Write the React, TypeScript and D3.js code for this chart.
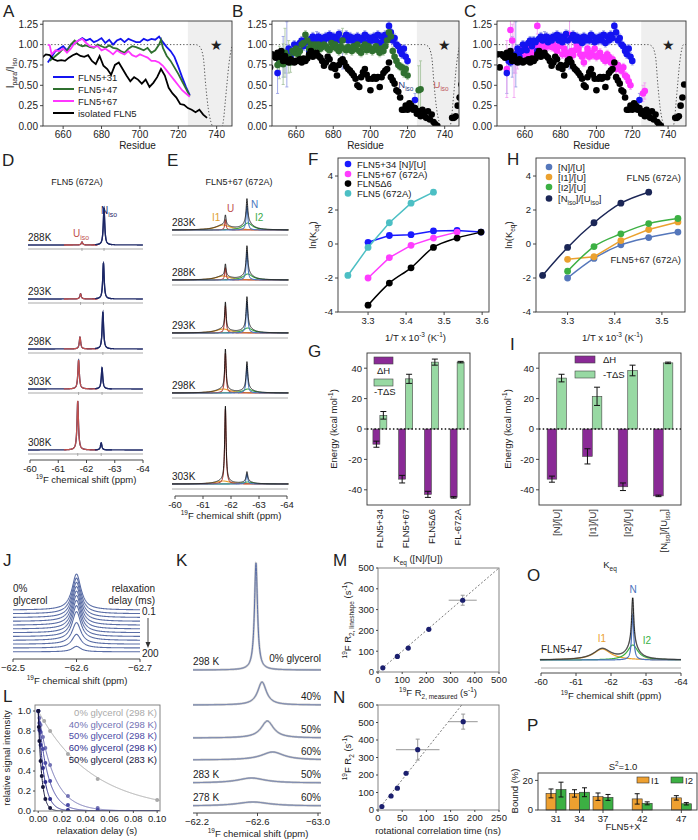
import React from 'react';
import * as d3 from 'd3';

const FONT = "'Liberation Sans', Arial, Helvetica, sans-serif";
const INK = '#222';

// ================= DATA =================
// Panel A: smoothed PRE profiles [residue, Ipara/Iiso]
const aBlue31: [number, number][] = [[652,0.78],[654,0.85],[656,0.92],[658,0.95],[660,0.98],[662,0.93],[664,1.0],[666,1.02],[668,1.05],[670,1.08],[672,1.05],[674,1.07],[676,1.03],[678,1.05],[680,1.08],[682,1.02],[684,1.06],[686,1.0],[688,1.05],[690,1.07],[692,1.03],[694,1.07],[696,1.05],[698,1.03],[700,1.03],[702,1.07],[704,1.05],[706,1.07],[708,1.06],[710,1.1],[712,1.03],[714,0.97],[716,0.92],[718,0.85],[720,0.73],[722,0.6],[724,0.48],[726,0.38]];
const aGreen47: [number, number][] = [[653,0.8],[656,0.86],[658,0.9],[660,0.95],[662,0.92],[664,1.0],[666,1.05],[668,1.0],[670,0.98],[672,0.99],[674,0.97],[676,0.96],[678,1.0],[680,0.98],[682,0.96],[684,0.99],[686,0.96],[688,0.95],[690,0.92],[692,0.9],[694,0.95],[696,0.98],[698,0.97],[700,0.95],[702,0.93],[704,0.96],[706,0.9],[708,0.93],[710,1.0],[711,1.06],[712,0.96],[714,0.86],[716,0.8],[718,0.72],[720,0.64],[722,0.55],[724,0.46],[726,0.37]];
const aMagenta67: [number, number][] = [[652,1.0],[653,0.99],[654,0.88],[656,0.93],[658,0.92],[660,0.95],[662,0.9],[664,0.95],[666,1.02],[668,1.05],[670,1.07],[672,1.02],[674,0.98],[676,0.97],[678,0.98],[680,0.93],[682,0.95],[684,0.92],[686,0.88],[688,0.93],[690,0.9],[692,0.88],[694,0.92],[696,0.87],[698,0.85],[700,0.88],[702,0.86],[704,0.84],[706,0.8],[708,0.8],[710,0.78],[712,0.74],[714,0.68],[716,0.62],[718,0.56],[720,0.5],[722,0.44],[724,0.4],[726,0.36]];
const aIsolated: [number, number][] = [[645,0.83],[647,0.82],[649,0.84],[651,0.88],[653,0.87],[655,0.82],[657,0.8],[659,0.81],[661,0.8],[663,0.84],[665,0.87],[667,0.89],[669,0.86],[671,0.85],[673,0.87],[675,0.8],[677,0.76],[679,0.86],[681,0.74],[683,0.7],[685,0.63],[687,0.75],[689,0.78],[691,0.7],[693,0.62],[695,0.55],[697,0.6],[699,0.57],[701,0.52],[703,0.57],[705,0.48],[707,0.53],[709,0.6],[711,0.7],[713,0.62],[715,0.47],[717,0.4],[719,0.35],[721,0.27],[723,0.26],[725,0.22],[727,0.2],[729,0.17],[731,0.2],[733,0.14],[735,0.1]];
const isoReference: [number, number][] = [[640,1],[729,1],[731,0.98],[733,0.85],[734.3,0.5],[735.6,0.22],[737,0.05],[738.6,-0.02],[742.6,-0.02],[743.6,0.08],[744.5,0.3],[745.3,0.5],[746.5,0.78],[747.6,0.94],[748.6,1.0],[752,1.0]];
const residueTicks = [660, 680, 700, 720, 740];
const ratioTicks = [0, 0.25, 0.5, 0.75, 1.0, 1.25];

// Panels B/C: per-residue PRE ratios
const isoStart = 645;
const isoVals: (number | null)[] = [0.88,0.72,0.88,0.86,0.84,0.90,0.85,0.92,0.80,0.86, 0.80,0.78,0.82,0.80,0.78,0.80,0.80,0.82,0.78,0.83, 0.80,0.83,0.88,0.92,0.85,0.88,0.90,0.86,0.84,0.80, 0.74,0.78,0.85,0.82,0.72,0.75,0.70,0.62,0.75,0.80, 0.82,0.78,0.73,0.70,0.68,0.65,0.62,0.58,0.50,0.48, 0.60,0.66,0.70,0.63,0.58,0.44,0.58,0.60,0.58,0.60, 0.48,0.60,0.65,0.68,0.70,0.78,0.60,0.56,0.52,0.44, 0.42,0.35,0.20,0.20,0.25,0.20,0.28,0.25,0.20,0.22, 0.15,0.18,0.12,0.20,0.15,0.10,0.18,0.08,0.14,0.05, 0.02,0.00, null,null,null,null,null,null,null, 0.10,0.10,0.12,0.25,0.35,0.51];
const p31Start = 650;
const p31Vals: (number | null)[] = [0.65,0.80,0.78,0.85,0.80,0.88,0.95,0.85,0.92,1.00, 0.97,0.93,1.02,1.05,0.98,1.05,1.03,0.92,1.07,1.10, 1.05,1.08,1.10,1.03,1.08,1.05,1.10,1.08,1.12,1.05, 1.10,1.03,1.08,1.13,1.05,0.80,1.08,1.12,1.05,1.10, 1.05,1.08,1.02,1.10,1.05,1.08,1.05,1.12,1.10,1.03, 1.08,1.05,1.10,1.05,1.12,1.02,1.10,1.05,1.12,1.08, 1.23,1.15,1.05,1.08,1.00,0.98,0.92,0.88,0.95,0.85, 0.80,null,null,null,0.32,null];
const p31BigErr: [number, number][] = [[650,0.25],[651,0.12],[653,0.25],[654,0.15],[655,0.4],[657,0.1],[671,0.08],[681,0.1],[684,0.12],[685,0.1],[724,0.08]];
const p47Start = 650;
const p47Vals: (number | null)[] = [0.75,0.78,0.80,0.76,0.90,0.82,0.85,0.78,0.92,0.90, 0.95,0.88,0.92,1.00,1.02,1.12,1.05,0.95,1.00,0.95, 1.00,0.98,1.00,0.95,0.97,1.00,0.98,0.95,0.93,1.02, 0.97,1.00,0.95,0.92,0.98,1.05,0.95,0.93,0.97,0.95, 0.92,0.98,0.95,1.00,0.92,0.90,0.97,1.00,0.93,0.98, 0.95,0.92,0.95,0.98,0.93,0.90,0.95,0.92,0.98,1.05, 1.15,1.10,0.92,0.85,0.80,0.75,0.73,0.72,0.65,0.70, 0.62,null,null,null,null,null,0.44,0.45];
const p47BigErr: [number, number][] = [[651,0.2],[653,0.25],[654,0.3],[656,0.2],[657,0.12],[685,0.15],[710,0.1],[726,0.3],[727,0.35]];
const p67Start = 650;
const p67Vals: (number | null)[] = [0.70,0.85,1.18,1.05,0.85,0.80,0.82,0.85,0.88,0.95, 0.90,0.85,0.95,0.90,0.88,1.00,0.95,1.23,0.98,1.02, 1.05,0.95,1.00,0.98,1.05,0.97,1.00,0.95,0.92,0.98, 1.00,0.88,0.95,0.90,0.85,1.12,0.92,0.87,0.93,1.00, 0.95,0.88,0.85,0.78,0.88,0.95,0.85,0.90,0.87,0.95, 0.85,0.87,0.90,0.85,0.82,0.80,0.88,0.85,0.78,0.82, 0.75,0.70,0.75,0.70,0.68,0.72,0.62,0.60,0.55,0.50, null,null,null,null,null,null,0.40,0.43];
const p67BigErr: [number, number][] = [[650,0.35],[651,0.1],[652,0.15],[653,0.2],[654,0.5],[655,0.15],[656,0.12],[667,0.1],[685,0.2],[686,0.15],[726,0.1],[727,0.1]];
const defaultErr = 0.05;

// Panel D: FLN5 (672A) spectra
const dTemps = ['288K', '293K', '298K', '303K', '308K'];
const dNiso = [1.0, 0.97, 1.0, 0.57, 0.19];
const dUiso = [0.08, 0.14, 0.32, 0.78, 1.32];
const dNisoPpm = [-62.62, -62.6, -62.58, -62.55, -62.52];
const dUisoPpm = [-61.84, -61.79, -61.77, -61.72, -61.69];
const ppmTicks = [-60, -61, -62, -63, -64];

// Panel E: FLN5+67 (672A) spectra (a.u.)
const eTemps = ['283K', '288K', '293K', '298K', '303K'];
const eU = [1.0, 1.2, 2.7, 4.0, 7.5];
const eI1 = [0.5, 0.4, 0.4, 0.4, 0.3];
const eN = [2.4, 2.8, 3.1, 2.7, 1.0];
const eI2 = [0.7, 0.6, 0.5, 0.4, 0.2];
const ePpm = { U: -61.8, I1: -61.72, N: -62.57, I2: -62.6 };
const eWidth = { U: 0.03, I1: 0.3, N: 0.035, I2: 0.2 };

// Panels F/H: van 't Hoff
const invT = [3.247, 3.3, 3.356, 3.413, 3.472, 3.534, 3.597];
const fSeries = [
  { name: 'FLN5+34  [N]/[U]', vals: [null, 0.1, 0.5, 0.55, 0.77, 0.8, 0.7], color: '#1a1aff' },
  { name: 'FLN5+67 (672A)', vals: [null, -2.0, -0.8, -0.08, 0.35, 0.7, null], color: '#ff3cff' },
  { name: 'FLN5Δ6', vals: [null, -3.6, -2.3, -1.4, -0.2, 0.35, 0.7], color: '#000000' },
  { name: 'FLN5 (672A)', vals: [-1.85, -0.2, 1.25, 2.4, 3.05, null, null], color: '#4cbfc4' },
];
const hSeries = [
  { name: '[N]/[U]', vals: [null, -2.0, -0.85, -0.05, 0.38, 0.7, null], color: '#5577bb' },
  { name: '[I1]/[U]', vals: [null, -0.9, -0.75, 0.2, 0.85, 1.3, null], color: '#eba12f' },
  { name: '[I2]/[U]', vals: [null, -1.6, -0.15, 0.6, 1.2, 1.5, null], color: '#3cb043' },
  { name: '[Niso]/[Uiso]', vals: [-1.85, -0.2, 1.25, 2.4, 3.05, null, null], color: '#1b2656' },
];
const lnKTicks = [-4, -2, 0, 2, 4];

// Panels G/I: thermodynamics
const gCats = ['FLN5+34', 'FLN5+67', 'FLN5Δ6', 'FL-672A'];
const gDH = [-10, -33, -43, -45];
const gDHerr = [2, 2.5, 2, 0.5];
const gTS = [9, 33, 44, 44];
const gTSerr = [2.5, 3, 2, 0.5];
const iCats = ['[N]/[U]', '[I1]/[U]', '[I2]/[U]', '[Niso]/[Uiso]'];
const iDH = [-33, -18, -38, -44];
const iDHerr = [2, 5, 2.5, 0.5];
const iTS = [33.5, 21.5, 38.5, 43.5];
const iTSerr = [2.5, 6, 3.5, 0.5];
const energyTicks = [-40, -20, 0, 20, 40];

// Panel J: relaxation series (0% glycerol)
const jIntensity = [1.0, 0.99, 0.98, 0.97, 0.95, 0.93, 0.9, 0.86, 0.8, 0.6, 0.38, 0.15];
const jTicks = [-62.5, -62.6, -62.7];

// Panel K: lineshapes
const kLabels = ['0% glycerol', '40%', '50%', '60%', '50%', '60%'];
const kTemps = ['298 K', '', '', '', '283 K', '278 K'];
const kCenter = [-62.59, -62.63, -62.665, -62.7, -62.56, -62.57];
const kWidth = [0.012, 0.035, 0.05, 0.09, 0.11, 0.13];
const kHeight = [107, 23, 17, 8, 5, 4];
const kTicks = [-62.2, -62.6, -63.0];

// Panel L: relaxation decays
const lSeries = [
  { name: '0% glycerol (298 K)', rate: 22, color: '#a9a9a9', t: [0.0001, 0.005, 0.01, 0.025, 0.05, 0.1], v: [1.0, 0.9, 0.8, 0.57, 0.32, 0.11] },
  { name: '40% glycerol (298 K)', rate: 78, color: '#7272b4', t: [0.0001, 0.001, 0.002, 0.004, 0.006, 0.01, 0.025, 0.05], v: [1.0, 0.93, 0.86, 0.74, 0.63, 0.46, 0.15, 0.03] },
  { name: '50% glycerol (298 K)', rate: 125, color: '#4b4ba6', t: [0.0001, 0.001, 0.002, 0.004, 0.006, 0.01, 0.025, 0.05], v: [1.0, 0.88, 0.79, 0.62, 0.48, 0.3, 0.06, 0.01] },
  { name: '60% glycerol (298 K)', rate: 210, color: '#2d2d8c', t: [0.0001, 0.001, 0.002, 0.004, 0.006, 0.01, 0.025], v: [1.0, 0.81, 0.66, 0.43, 0.29, 0.12, 0.01] },
  { name: '50% glycerol (283 K)', rate: 350, color: '#15153d', t: [0.0001, 0.0005, 0.001, 0.002, 0.003, 0.004, 0.006, 0.01], v: [1.0, 0.84, 0.7, 0.5, 0.35, 0.24, 0.12, 0.03] },
];

// Panels M/N
const mX = [20, 80, 125, 210, 350];
const mY = [20, 75, 115, 205, 345];
const mXerr = [0, 0, 0, 0, 58];
const mYerr = [0, 0, 0, 0, 24];
const nX = [8, 27, 40, 58, 82, 176];
const nY = [20, 80, 125, 210, 345, 505];
const nXerr = [0, 0, 0, 0, 45, 30];
const nYerr = [0, 0, 0, 0, 60, 43];

// Panel O: FLN5+47 components
const oComps = [
  { name: 'I1', c: -61.75, w: 0.3, h: 11, color: '#eba12f' },
  { name: 'I2', c: -62.62, w: 0.18, h: 15, color: '#3cb043' },
  { name: 'N', c: -62.62, w: 0.035, h: 46, color: '#4a72bd' },
];

// Panel P
const pX = [31, 34, 37, 42, 47];
const pI1 = [11.2, 11.2, 9, 7.5, 8.2];
const pI1err = [3, 2.5, 2.5, 3.5, 1.5];
const pI2 = [13.8, 12, 8.5, 4.5, 4.2];
const pI2err = [5, 3, 2, 1, 0.8];

// ================= HELPERS =================
const lor = (p: number, c: number, w: number, h: number) => h / (1 + ((p - c) / w) ** 2);

function rich(parts: [string, string][], fs: number) {
  let cur = 0;
  return parts.map(([t, k], i) => {
    const target = k === 'sub' ? fs * 0.3 : k === 'sup' ? -fs * 0.38 : 0;
    const dy = target - cur;
    cur = target;
    return (
      <tspan key={i} dy={dy} fontSize={k === 'n' ? fs : fs * 0.68}>
        {t}
      </tspan>
    );
  });
}

const ppmLabel = (fs: number) => rich([['19', 'sup'], ['F chemical shift (ppm)', 'n']], fs);

function Txt(props: any) {
  return <text fontFamily={FONT} fill={INK} {...props} />;
}

function XAxis({ scale, y, ticks, fmt, fs = 9.5, len = 3, color = '#333', line = true, range }: any) {
  const r = range || scale.range();
  return (
    <g>
      {line && <line x1={r[0]} x2={r[1]} y1={y} y2={y} stroke={color} strokeWidth={0.9} />}
      {ticks.map((t: number, i: number) => (
        <g key={i}>
          <line x1={scale(t)} x2={scale(t)} y1={y} y2={y + len} stroke={color} strokeWidth={0.9} />
          <Txt x={scale(t)} y={y + len + fs * 0.9} textAnchor="middle" fontSize={fs}>
            {fmt(t)}
          </Txt>
        </g>
      ))}
    </g>
  );
}

function YAxis({ scale, x, ticks, fmt, fs = 9.5, len = 3, color = '#333' }: any) {
  return (
    <g>
      {ticks.map((t: number, i: number) => (
        <g key={i}>
          <line x1={x - len} x2={x} y1={scale(t)} y2={scale(t)} stroke={color} strokeWidth={0.9} />
          <Txt x={x - len - 2} y={scale(t) + fs * 0.35} textAnchor="end" fontSize={fs}>
            {fmt(t)}
          </Txt>
        </g>
      ))}
    </g>
  );
}

function Letter({ x, y, c }: any) {
  return (
    <Txt x={x} y={y} fontSize={17}>
      {c}
    </Txt>
  );
}

function Box({ x0, x1, y0, y1, color = '#333' }: any) {
  return <rect x={x0} y={y0} width={x1 - x0} height={y1 - y0} fill="none" stroke={color} strokeWidth={0.9} />;
}

function expand(start: number, vals: (number | null)[], big: [number, number][]) {
  const m = new Map(big);
  return vals
    .map((v, i) => ({ r: start + i, v, e: m.has(start + i) ? (m.get(start + i) as number) : defaultErr }))
    .filter((d) => d.v != null) as { r: number; v: number; e: number }[];
}

// ================= PANELS A-C =================
const Y0 = 21, Y1 = 126;

function ResidueFrame({ id, x0, x1, dom, children, yLabel }: any) {
  const x = d3.scaleLinear().domain(dom).range([x0, x1]);
  const y = d3.scaleLinear().domain([0, 1.29]).range([Y1, Y0]);
  const ref = d3.line<[number, number]>().x((d) => x(d[0])).y((d) => y(d[1])).curve(d3.curveMonotoneX)(isoReference);
  return (
    <g>
      <defs>
        <clipPath id={id}>
          <rect x={x0} y={Y0} width={x1 - x0} height={Y1 - Y0} />
        </clipPath>
      </defs>
      <rect x={x(725)} y={Y0} width={x1 - x(725)} height={Y1 - Y0} fill="#efefef" />
      <g clipPath={`url(#${id})`}>
        <path d={ref || ''} fill="none" stroke="#555" strokeWidth={1} strokeDasharray="1.3,2" />
        {children(x, y)}
      </g>
      <Txt x={x(740)} y={y(1.0) + 5} textAnchor="middle" fontSize={14}>
        ★
      </Txt>
      <Box x0={x0} x1={x1} y0={Y0} y1={Y1} />
      <XAxis scale={x} y={Y1} ticks={residueTicks} fmt={(t: number) => String(t)} fs={10} line={false} />
      <YAxis scale={y} x={x0} ticks={ratioTicks} fmt={d3.format('.2f')} fs={10} />
      <Txt x={(x0 + x1) / 2} y={149} textAnchor="middle" fontSize={10}>
        Residue
      </Txt>
      {yLabel}
    </g>
  );
}

function Scatter({ x, y, data, errColor }: any) {
  return (
    <g>
      {data.map((d: any, i: number) => (
        <g key={'e' + i} stroke={errColor} strokeWidth={0.9}>
          <line x1={x(d.r)} x2={x(d.r)} y1={y(d.v - d.e)} y2={y(d.v + d.e)} />
          <line x1={x(d.r) - 1.5} x2={x(d.r) + 1.5} y1={y(d.v - d.e)} y2={y(d.v - d.e)} />
          <line x1={x(d.r) - 1.5} x2={x(d.r) + 1.5} y1={y(d.v + d.e)} y2={y(d.v + d.e)} />
        </g>
      ))}
    </g>
  );
}
function Dots({ x, y, data, color }: any) {
  return (
    <g>
      {data.map((d: any, i: number) => (
        <circle key={i} cx={x(d.r)} cy={y(d.v)} r={3.3} fill={color} />
      ))}
    </g>
  );
}

const blueC = '#1414f0', greenC = '#2f702f', magC = '#ff36ff';
const blueE = '#98a0e6', greenE = '#a9c6a2', magE = '#f2a2f2';

function PanelA() {
  const series = [
    { d: aBlue31, c: blueC, n: 'FLN5+31' },
    { d: aGreen47, c: greenC, n: 'FLN5+47' },
    { d: aMagenta67, c: magC, n: 'FLN5+67' },
    { d: aIsolated, c: '#000', n: 'isolated FLN5' },
  ];
  const yl = (
    <Txt transform="translate(14,73) rotate(-90)" textAnchor="middle" fontSize={10}>
      {rich([['I', 'n'], ['para', 'sub'], ['/I', 'n'], ['iso', 'sub']], 10)}
    </Txt>
  );
  return (
    <g>
      <Letter x={3} y={17} c="A" />
      <ResidueFrame id="clipA" x0={43} x1={232} dom={[649.5, 748]} yLabel={yl}>
        {(x: any, y: any) =>
          series.map((s, i) => (
            <path key={i} d={d3.line<[number, number]>().x((d) => x(d[0])).y((d) => y(d[1]))(s.d) || ''} fill="none" stroke={s.c} strokeWidth={1.8} />
          ))
        }
      </ResidueFrame>
      {series.map((s, i) => (
        <g key={i}>
          <line x1={53} x2={74} y1={77 + i * 12} y2={77 + i * 12} stroke={s.c} strokeWidth={2} />
          <Txt x={78} y={80.5 + i * 12} fontSize={9.5}>
            {s.n}
          </Txt>
        </g>
      ))}
    </g>
  );
}

function PanelB() {
  const iso = expand(isoStart, isoVals, []);
  const p31 = expand(p31Start, p31Vals, p31BigErr);
  const p47 = expand(p47Start, p47Vals, p47BigErr);
  return (
    <g>
      <Letter x={232} y={17} c="B" />
      <ResidueFrame id="clipB" x0={272} x1={459} dom={[647, 747.7]}>
        {(x: any, y: any) => (
          <g>
            <Scatter x={x} y={y} data={p31} errColor={blueE} />
            <Scatter x={x} y={y} data={p47} errColor={greenE} />
            <Dots x={x} y={y} data={p31} color={blueC} />
            <Dots x={x} y={y} data={p47} color={greenC} />
            <Dots x={x} y={y} data={iso} color="#000" />
            <Txt x={x(715)} y={y(0.47)} fontSize={9.5} fill="#2a3a7a">
              {rich([['N', 'n'], ['iso', 'sub']], 9.5)}
            </Txt>
            <Txt x={x(734)} y={y(0.47)} fontSize={9.5} fill="#c05a5a">
              {rich([['U', 'n'], ['iso', 'sub']], 9.5)}
            </Txt>
          </g>
        )}
      </ResidueFrame>
    </g>
  );
}

function PanelC() {
  const iso = expand(isoStart, isoVals, []);
  const p31 = expand(p31Start, p31Vals, p31BigErr);
  const p67 = expand(p67Start, p67Vals, p67BigErr);
  return (
    <g>
      <Letter x={464} y={17} c="C" />
      <ResidueFrame id="clipC" x0={497} x1={686} dom={[644.5, 750]}>
        {(x: any, y: any) => (
          <g>
            <Scatter x={x} y={y} data={p31} errColor={blueE} />
            <Scatter x={x} y={y} data={p67} errColor={magE} />
            <Dots x={x} y={y} data={p67} color={magC} />
            <Dots x={x} y={y} data={p31} color={blueC} />
            <Dots x={x} y={y} data={iso} color="#000" />
          </g>
        )}
      </ResidueFrame>
    </g>
  );
}

// ================= PANELS D / E =================
function specLine(x: any, base: number, k: number, comps: { c: number; w: number; h: number }[], p0: number, p1: number, step: number) {
  const ps = d3.range(p0, p1, step);
  return d3.line<number>().x((p) => x(p)).y((p) => base - k * d3.sum(comps, (c) => lor(p, c.c, c.w, c.h)))(ps) || '';
}

function PanelD() {
  const x = d3.scaleLinear().domain([-60, -64]).range([30, 143]);
  const bases = [245, 299, 349, 389, 450];
  const k = 37;
  const p0 = x.invert(28);
  return (
    <g>
      <Letter x={2} y={166} c="D" />
      <Txt x={77} y={185} textAnchor="middle" fontSize={9}>
        FLN5 (672A)
      </Txt>
      {dTemps.map((t, i) => {
        const U = { c: dUisoPpm[i], w: 0.03, h: dUiso[i] };
        const N = { c: dNisoPpm[i], w: 0.03, h: dNiso[i] };
        const b = bases[i];
        return (
          <g key={t}>
            <line x1={28} x2={143} y1={b + 4} y2={b + 4} stroke="#aaa" strokeWidth={1.2} />
            <line x1={x(U.c)} x2={x(U.c)} y1={b + 3} y2={b + 6} stroke="#999" strokeWidth={0.8} />
            <line x1={x(N.c)} x2={x(N.c)} y1={b + 3} y2={b + 6} stroke="#999" strokeWidth={0.8} />
            <path d={specLine(x, b, k, [U, N], p0, -64, -0.004)} fill="none" stroke="#1c2766" strokeWidth={1.3} />
            <path d={specLine(x, b, k, [U], -61.2, -62.4, -0.004)} fill="none" stroke="#c0504d" strokeWidth={1.3} />
            <path d={specLine(x, b, k, [N], -62.3, -62.9, -0.004)} fill="none" stroke="#1c2766" strokeWidth={1.3} />
            <Txt x={28} y={b - 4} fontSize={10}>
              {t}
            </Txt>
          </g>
        );
      })}
      <Txt x={101} y={214} fontSize={10} fill="#1c2766">
        {rich([['N', 'n'], ['iso', 'sub']], 10)}
      </Txt>
      <Txt x={73} y={237} fontSize={10} fill="#c0504d">
        {rich([['U', 'n'], ['iso', 'sub']], 10)}
      </Txt>
      <XAxis scale={x} y={460} ticks={ppmTicks} fmt={(t: number) => String(t)} fs={9.5} />
      <Txt x={86} y={483} textAnchor="middle" fontSize={9.5}>
        {ppmLabel(9.5)}
      </Txt>
    </g>
  );
}

function PanelE() {
  const x = d3.scaleLinear().domain([-60, -64]).range([175, 287]);
  const bases = [230, 280, 333, 393, 484];
  const k = 10;
  const p0 = x.invert(172);
  const colors = { I1: '#eba12f', U: '#b5463f', N: '#4a78c0', I2: '#3daa48' };
  return (
    <g>
      <Letter x={167} y={166} c="E" />
      <Txt x={239} y={185} textAnchor="middle" fontSize={9}>
        FLN5+67 (672A)
      </Txt>
      {eTemps.map((t, i) => {
        const comps = [
          { key: 'I1', c: ePpm.I1, w: eWidth.I1, h: eI1[i] },
          { key: 'I2', c: ePpm.I2, w: eWidth.I2, h: eI2[i] },
          { key: 'U', c: ePpm.U, w: eWidth.U, h: eU[i] },
          { key: 'N', c: ePpm.N, w: eWidth.N, h: eN[i] },
        ];
        const b = bases[i];
        return (
          <g key={t}>
            <line x1={172} x2={288} y1={b + 5} y2={b + 5} stroke="#aaa" strokeWidth={1} />
            {comps.map((c) => (
              <path key={c.key} d={specLine(x, b, k, [c], p0, -64.05, -0.004)} fill="none" stroke={(colors as any)[c.key]} strokeWidth={1.1} />
            ))}
            <path d={specLine(x, b, k, comps, p0, -64.05, -0.004)} fill="none" stroke="#111" strokeWidth={0.9} />
            <Txt x={172} y={b - 4} fontSize={10}>
              {t}
            </Txt>
          </g>
        );
      })}
      <Txt x={212} y={221} fontSize={10} fill="#e0a030">I1</Txt>
      <Txt x={227} y={212} fontSize={10} fill="#c0504d">U</Txt>
      <Txt x={251} y={208} fontSize={10} fill="#4a78c0">N</Txt>
      <Txt x={255} y={221} fontSize={10} fill="#3daa48">I2</Txt>
      <XAxis scale={x} y={496} ticks={ppmTicks} fmt={(t: number) => String(t)} fs={9.5} />
      <Txt x={231} y={519} textAnchor="middle" fontSize={9.5}>
        {ppmLabel(9.5)}
      </Txt>
    </g>
  );
}

// ================= PANELS F / H =================
function LnKPanel({ letter, lx, x0, x1, dom, series, xTicks, legendX, legendY, legendDy, curve, extra, yLabelX }: any) {
  const x = d3.scaleLinear().domain(dom).range([x0, x1]);
  const y = d3.scaleLinear().domain([-4, 5.06]).range([312, 158]);
  return (
    <g>
      <Letter x={lx} y={165} c={letter} />
      {series.map((s: any, i: number) => {
        const pts = invT.map((t, j) => [t, s.vals[j]]).filter((d) => d[1] != null) as [number, number][];
        return (
          <g key={i}>
            <path d={d3.line<[number, number]>().x((d) => x(d[0])).y((d) => y(d[1])).curve(curve[i])(pts) || ''} fill="none" stroke={s.color} strokeWidth={1.5} />
            {pts.map((d, j) => (
              <circle key={j} cx={x(d[0])} cy={y(d[1])} r={3.4} fill={s.color} />
            ))}
          </g>
        );
      })}
      {series.map((s: any, i: number) => (
        <g key={'l' + i}>
          <circle cx={legendX} cy={legendY + i * legendDy[i]} r={3.3} fill={s.color} />
          <Txt x={legendX + 9} y={legendY + i * legendDy[i] + 3.5} fontSize={9.5}>
            {s.name.includes('iso') ? rich([['[N', 'n'], ['iso', 'sub'], [']/[U', 'n'], ['iso', 'sub'], [']', 'n']], 9.5) : s.name}
          </Txt>
        </g>
      ))}
      {extra}
      <Box x0={x0} x1={x1} y0={158} y1={312} />
      <XAxis scale={x} y={312} ticks={xTicks} fmt={d3.format('.1f')} fs={9.5} line={false} />
      <YAxis scale={y} x={x0} ticks={lnKTicks} fmt={(t: number) => String(t)} fs={9.5} />
      <Txt x={(x0 + x1) / 2 + 2} y={341} textAnchor="middle" fontSize={9.5}>
        {rich([['1/T x 10', 'n'], ['-3', 'sup'], [' (K', 'n'], ['-1', 'sup'], [')', 'n']], 9.5)}
      </Txt>
      <Txt transform={`translate(${yLabelX},235) rotate(-90)`} textAnchor="middle" fontSize={9.5}>
        {rich([['ln(K', 'n'], ['eq', 'sub'], [')', 'n']], 9.5)}
      </Txt>
    </g>
  );
}

function PanelF() {
  return (
    <LnKPanel
      letter="F" lx={308} x0={338} x1={489} dom={[3.221, 3.618]} series={fSeries}
      xTicks={[3.3, 3.4, 3.5, 3.6]} legendX={348} legendY={164} legendDy={[10, 10, 9.8, 9.8]}
      curve={[d3.curveLinear, d3.curveLinear, d3.curveMonotoneX, d3.curveLinear]} yLabelX={316}
    />
  );
}

function PanelH() {
  return (
    <LnKPanel
      letter="H" lx={507} x0={536} x1={685} dom={[3.233, 3.549]} series={hSeries}
      xTicks={[3.3, 3.4, 3.5]} legendX={549} legendY={167} legendDy={[10, 10, 10, 10.5]}
      curve={[d3.curveMonotoneX, d3.curveLinear, d3.curveMonotoneX, d3.curveMonotoneX]} yLabelX={512}
      extra={
        <g>
          <Txt x={681} y={181} textAnchor="end" fontSize={9.5}>FLN5 (672A)</Txt>
          <Txt x={681} y={263} textAnchor="end" fontSize={9.5}>FLN5+67 (672A)</Txt>
        </g>
      }
    />
  );
}

// ================= PANELS G / I =================
function catLabel(s: string, fs: number) {
  if (s.includes('iso')) return rich([['[N', 'n'], ['iso', 'sub'], [']/[U', 'n'], ['iso', 'sub'], [']', 'n']], fs);
  return s;
}

function EnergyPanel({ letter, lx, ly, x0, x1, cats, dh, dhErr, ts, tsErr, legend, xLabel, yLabelX }: any) {
  const y = d3.scaleLinear().domain([-50, 50]).range([505, 353]);
  const xb = d3.scaleBand().domain(cats).range([x0, x1]);
  const bw = xb.bandwidth() * 0.27;
  const purple = '#8a2a96', green = '#98d9a3';
  const err = (cx: number, v: number, e: number, key: string) => (
    <g key={key} stroke="#111" strokeWidth={1}>
      <line x1={cx} x2={cx} y1={y(v - e)} y2={y(v + e)} />
      <line x1={cx - 3} x2={cx + 3} y1={y(v - e)} y2={y(v - e)} />
      <line x1={cx - 3} x2={cx + 3} y1={y(v + e)} y2={y(v + e)} />
    </g>
  );
  return (
    <g>
      <Letter x={lx} y={ly} c={letter} />
      {cats.map((c: string, i: number) => {
        const cx = (xb(c) as number) + xb.bandwidth() / 2;
        return (
          <g key={c}>
            <rect x={cx - bw} y={y(0)} width={bw} height={y(dh[i]) - y(0)} fill={purple} stroke="#444" strokeWidth={0.6} />
            <rect x={cx} y={y(ts[i])} width={bw} height={y(0) - y(ts[i])} fill={green} stroke="#444" strokeWidth={0.6} />
            {err(cx - bw / 2, dh[i], dhErr[i], 'a')}
            {err(cx + bw / 2, ts[i], tsErr[i], 'b')}
            <Txt transform={`translate(${cx + 3.5},${509}) rotate(-90)`} textAnchor="end" fontSize={9.5}>
              {catLabel(c, 9.5)}
            </Txt>
          </g>
        );
      })}
      <line x1={x0} x2={x1} y1={y(0)} y2={y(0)} stroke="#111" strokeWidth={1.3} strokeDasharray="1.5,2.2" />
      {legend}
      <Box x0={x0} x1={x1} y0={353} y1={505} />
      <YAxis scale={y} x={x0} ticks={energyTicks} fmt={(t: number) => String(t)} fs={9.5} />
      <Txt transform={`translate(${yLabelX},429) rotate(-90)`} textAnchor="middle" fontSize={9.5}>
        {rich([['Energy (kcal mol', 'n'], ['-1', 'sup'], [')', 'n']], 9.5)}
      </Txt>
      {xLabel}
    </g>
  );
}

function PanelG() {
  const legend = (
    <g>
      <rect x={374} y={357} width={19} height={7} fill="#8a2a96" stroke="#444" strokeWidth={0.6} />
      <Txt x={377} y={374} fontSize={9.5}>ΔH</Txt>
      <rect x={374} y={379} width={19} height={7} fill="#98d9a3" stroke="#444" strokeWidth={0.6} />
      <Txt x={374} y={395} fontSize={9.5}>-TΔS</Txt>
    </g>
  );
  return (
    <EnergyPanel
      letter="G" lx={308} ly={357} x0={367} x1={470} cats={gCats} dh={gDH} dhErr={gDHerr} ts={gTS} tsErr={gTSerr}
      legend={legend} yLabelX={337}
      xLabel={
        <Txt x={418} y={562} textAnchor="middle" fontSize={9.5}>
          {rich([['K', 'n'], ['eq', 'sub'], [' ([N]/[U])', 'n']], 9.5)}
        </Txt>
      }
    />
  );
}

function PanelI() {
  const legend = (
    <g>
      <rect x={575} y={356} width={20} height={7} fill="#8a2a96" stroke="#444" strokeWidth={0.6} />
      <Txt x={603} y={363} fontSize={9.5}>ΔH</Txt>
      <rect x={575} y={371} width={20} height={7} fill="#98d9a3" stroke="#444" strokeWidth={0.6} />
      <Txt x={603} y={378} fontSize={9.5}>-TΔS</Txt>
    </g>
  );
  return (
    <EnergyPanel
      letter="I" lx={510} ly={350} x0={539} x1={681} cats={iCats} dh={iDH} dhErr={iDHerr} ts={iTS} tsErr={iTSerr}
      legend={legend} yLabelX={511}
      xLabel={
        <Txt x={610} y={568} textAnchor="middle" fontSize={9.5}>
          {rich([['K', 'n'], ['eq', 'sub']], 9.5)}
        </Txt>
      }
    />
  );
}

// ================= PANEL J =================
function PanelJ() {
  const x = d3.scaleLinear().domain([-62.5, -62.7]).range([13, 140]);
  const k = 36;
  const col = '#5b6ea6';
  return (
    <g>
      <Letter x={3} y={566} c="J" />
      {jIntensity.map((v, i) => {
        const b = 610 + i * 3.8;
        return <path key={i} d={specLine(x, b, k, [{ c: -62.6, w: 0.0085, h: v }], -62.5, -62.7001, -0.0005)} fill="none" stroke={col} strokeWidth={1.1} />;
      })}
      <Txt x={13} y={592} fontSize={10}>0%</Txt>
      <Txt x={13} y={604} fontSize={10}>glycerol</Txt>
      <Txt x={155} y={592} textAnchor="end" fontSize={10}>relaxation</Txt>
      <Txt x={155} y={604} textAnchor="end" fontSize={10}>delay (ms)</Txt>
      <Txt x={142} y={615} fontSize={10}>0.1</Txt>
      <line x1={148} x2={148} y1={618} y2={645} stroke="#333" strokeWidth={0.9} />
      <path d="M145.5,642 L148,648 L150.5,642 Z" fill="#333" />
      <Txt x={142} y={657} fontSize={10}>200</Txt>
      <XAxis scale={x} y={659} ticks={jTicks} fmt={d3.format('.1f')} fs={9.5} />
      <Txt x={77} y={684} textAnchor="middle" fontSize={9.5}>
        {ppmLabel(9.5)}
      </Txt>
    </g>
  );
}

// ================= PANEL K =================
function PanelK() {
  const x = d3.scaleLinear().domain([-62.2, -63.0]).range([197, 318]);
  const bases = [670, 705, 738, 760, 783, 806];
  const col = '#5b6ea6';
  return (
    <g>
      <Letter x={176} y={566} c="K" />
      {kLabels.map((l, i) => {
        const comp = [{ c: kCenter[i], w: kWidth[i], h: kHeight[i] }];
        const d = specLine(x, bases[i], 1, comp, x.invert(193), x.invert(321), -0.001);
        return (
          <g key={i}>
            <path d={d} fill="none" stroke="#c8c8c8" strokeWidth={2.2} />
            <path d={d} fill="none" stroke={col} strokeWidth={1} />
            <Txt x={321} y={bases[i] - (i === 0 ? 8 : 5)} textAnchor="end" fontSize={10}>
              {l}
            </Txt>
            {kTemps[i] && (
              <Txt x={193} y={bases[i] - 5} fontSize={10}>
                {kTemps[i]}
              </Txt>
            )}
          </g>
        );
      })}
      <XAxis scale={x} y={813} ticks={kTicks} fmt={d3.format('.1f')} fs={9.5} range={[193, 321]} />
      <Txt x={258} y={837} textAnchor="middle" fontSize={9.5}>
        {ppmLabel(9.5)}
      </Txt>
    </g>
  );
}

// ================= PANEL L =================
function PanelL() {
  const x = d3.scaleLinear().domain([-0.0027, 0.1024]).range([35, 160]);
  const y = d3.scaleLinear().domain([0, 1.06]).range([811, 705]);
  return (
    <g>
      <Letter x={3} y={702} c="L" />
      <defs>
        <clipPath id="clipL">
          <rect x={35} y={705} width={125} height={106} />
        </clipPath>
      </defs>
      <g clipPath="url(#clipL)">
        {lSeries.map((s, i) => {
          const ts = d3.range(0, 0.1021, 0.0002);
          return (
            <g key={i}>
              <path d={d3.line<number>().x((t) => x(t)).y((t) => y(Math.exp(-s.rate * t)))(ts) || ''} fill="none" stroke={s.color} strokeWidth={1} />
              {s.t.map((t, j) => (
                <circle key={j} cx={x(t)} cy={y(s.v[j])} r={2} fill={s.color} />
              ))}
            </g>
          );
        })}
      </g>
      {lSeries.map((s, i) => (
        <Txt key={i} x={157} y={716 + i * 11.7} textAnchor="end" fontSize={9.5} fill={s.color}>
          {s.name}
        </Txt>
      ))}
      <Box x0={35} x1={160} y0={705} y1={811} color="#777" />
      <XAxis scale={x} y={811} ticks={[0, 0.02, 0.04, 0.06, 0.08, 0.1]} fmt={d3.format('.2f')} fs={9.5} line={false} len={2} />
      <YAxis scale={y} x={35} ticks={[0, 0.2, 0.4, 0.6, 0.8, 1.0]} fmt={d3.format('.1f')} fs={9.5} len={2} />
      <Txt x={97} y={834} textAnchor="middle" fontSize={9.5}>relaxation delay (s)</Txt>
      <Txt transform="translate(10,758) rotate(-90)" textAnchor="middle" fontSize={9.5}>relative signal intensity</Txt>
    </g>
  );
}

// ================= PANELS M / N =================
function CorrPanel({ letter, ly, y0, y1, xDom, yDom, xTicks, yTicks, xs, ys, xe, ye, lineEnd, xLabel, yLabel, xLabelY }: any) {
  const x = d3.scaleLinear().domain(xDom).range([378, 499]);
  const y = d3.scaleLinear().domain(yDom).range([y1, y0]);
  const col = '#1b1f6e';
  return (
    <g>
      <Letter x={333} y={ly} c={letter} />
      <line x1={x(0)} y1={y(0)} x2={x(lineEnd[0])} y2={y(lineEnd[1])} stroke="#666" strokeWidth={0.9} strokeDasharray="2,2" />
      {xs.map((v: number, i: number) => (
        <g key={i}>
          {xe[i] > 0 && <line x1={x(v - xe[i])} x2={x(v + xe[i])} y1={y(ys[i])} y2={y(ys[i])} stroke="#aaa" strokeWidth={1.2} />}
          {ye[i] > 0 && (
            <g stroke="#999" strokeWidth={1}>
              <line x1={x(v)} x2={x(v)} y1={y(ys[i] - ye[i])} y2={y(ys[i] + ye[i])} />
              <line x1={x(v) - 2} x2={x(v) + 2} y1={y(ys[i] - ye[i])} y2={y(ys[i] - ye[i])} />
              <line x1={x(v) - 2} x2={x(v) + 2} y1={y(ys[i] + ye[i])} y2={y(ys[i] + ye[i])} />
            </g>
          )}
          <circle cx={x(v)} cy={y(ys[i])} r={2.6} fill={col} />
        </g>
      ))}
      <Box x0={378} x1={499} y0={y0} y1={y1} color="#777" />
      <XAxis scale={x} y={y1} ticks={xTicks} fmt={(t: number) => String(t)} fs={9.5} line={false} len={2} />
      <YAxis scale={y} x={378} ticks={yTicks} fmt={(t: number) => String(t)} fs={9.5} len={2} />
      <Txt x={438} y={xLabelY} textAnchor="middle" fontSize={9.5}>{xLabel}</Txt>
      <Txt transform={`translate(351,${(y0 + y1) / 2}) rotate(-90)`} textAnchor="middle" fontSize={9.5}>{yLabel}</Txt>
    </g>
  );
}

function PanelM() {
  return (
    <CorrPanel
      letter="M" ly={566} y0={568} y1={672} xDom={[0, 500]} yDom={[0, 500]}
      xTicks={[0, 100, 200, 300, 400, 500]} yTicks={[0, 100, 200, 300, 400, 500]}
      xs={mX} ys={mY} xe={mXerr} ye={mYerr} lineEnd={[500, 500]} xLabelY={696}
      xLabel={rich([['19', 'sup'], ['F R', 'n'], ['2, measured', 'sub'], [' (s', 'n'], ['-1', 'sup'], [')', 'n']], 9.5)}
      yLabel={rich([['19', 'sup'], ['F R', 'n'], ['2, lineshape', 'sub'], [' (s', 'n'], ['-1', 'sup'], [')', 'n']], 9.5)}
    />
  );
}

function PanelN() {
  return (
    <CorrPanel
      letter="N" ly={703} y0={705} y1={810} xDom={[0, 250]} yDom={[0, 600]}
      xTicks={[0, 50, 100, 150, 200, 250]} yTicks={[0, 100, 200, 300, 400, 500, 600]}
      xs={nX} ys={nY} xe={nXerr} ye={nYerr} lineEnd={[173, 600]} xLabelY={834}
      xLabel="rotational correlation time (ns)"
      yLabel={rich([['19', 'sup'], ['F R', 'n'], ['2', 'sub'], [' (s', 'n'], ['-1', 'sup'], [')', 'n']], 9.5)}
    />
  );
}

// ================= PANEL O =================
function PanelO() {
  const x = d3.scaleLinear().domain([-60, -64]).range([541, 681]);
  const b = 660;
  const p0 = -59.97;
  return (
    <g>
      <Letter x={527} y={581} c="O" />
      <line x1={541} x2={681} y1={668} y2={668} stroke="#aaa" strokeWidth={1} />
      {oComps.map((c) => (
        <path key={c.name} d={specLine(x, b, 1, [c], p0, -64.0, -0.004)} fill="none" stroke={c.color} strokeWidth={1.2} />
      ))}
      <path d={specLine(x, b, 1, oComps, p0, -64.0, -0.004)} fill="none" stroke="#888" strokeWidth={1.6} opacity={0.6} />
      <path d={specLine(x, b, 1, oComps, p0, -64.0, -0.004)} fill="none" stroke="#111" strokeWidth={0.9} />
      <Txt x={633} y={593} textAnchor="middle" fontSize={10} fill="#4a72bd">N</Txt>
      <Txt x={602} y={642} textAnchor="middle" fontSize={10} fill="#eba12f">I1</Txt>
      <Txt x={647} y={644} textAnchor="middle" fontSize={10} fill="#3cb043">I2</Txt>
      <Txt x={541} y={653} fontSize={10}>FLN5+47</Txt>
      <XAxis scale={x} y={673} ticks={ppmTicks} fmt={(t: number) => String(t)} fs={9.5} />
      <Txt x={611} y={699} textAnchor="middle" fontSize={9.5}>{ppmLabel(9.5)}</Txt>
    </g>
  );
}

// ================= PANEL P =================
function PanelP() {
  const x = d3.scaleLinear().domain([28.7, 49]).range([538, 697]);
  const y = d3.scaleLinear().domain([0, 25]).range([810, 773]);
  const bw = 10;
  const orange = '#eea030', green = '#3cb043';
  const err = (cx: number, v: number, e: number) => (
    <g stroke="#111" strokeWidth={1}>
      <line x1={cx} x2={cx} y1={y(v - e)} y2={y(v + e)} />
      <line x1={cx - 2.5} x2={cx + 2.5} y1={y(v - e)} y2={y(v - e)} />
      <line x1={cx - 2.5} x2={cx + 2.5} y1={y(v + e)} y2={y(v + e)} />
    </g>
  );
  return (
    <g>
      <Letter x={527} y={731} c="P" />
      <Txt x={623} y={770} textAnchor="middle" fontSize={9.5}>
        {rich([['S', 'n'], ['2', 'sup'], ['=1.0', 'n']], 9.5)}
      </Txt>
      {pX.map((v, i) => (
        <g key={v}>
          <rect x={x(v) - bw} y={y(pI1[i])} width={bw} height={y(0) - y(pI1[i])} fill={orange} stroke="#333" strokeWidth={0.6} />
          <rect x={x(v)} y={y(pI2[i])} width={bw} height={y(0) - y(pI2[i])} fill={green} stroke="#333" strokeWidth={0.6} />
          {err(x(v) - bw / 2, pI1[i], pI1err[i])}
          {err(x(v) + bw / 2, pI2[i], pI2err[i])}
        </g>
      ))}
      <rect x={637} y={777} width={12} height={6} fill={orange} stroke="#333" strokeWidth={0.6} />
      <Txt x={651} y={784} fontSize={9.5}>I1</Txt>
      <rect x={671} y={777} width={12} height={6} fill={green} stroke="#333" strokeWidth={0.6} />
      <Txt x={685} y={784} fontSize={9.5}>I2</Txt>
      <Box x0={538} x1={697} y0={773} y1={810} />
      <XAxis scale={x} y={810} ticks={pX} fmt={(t: number) => String(t)} fs={9.5} line={false} />
      <YAxis scale={y} x={538} ticks={[0, 20]} fmt={(t: number) => String(t)} fs={9.5} />
      <Txt x={623} y={830} textAnchor="middle" fontSize={9.5}>FLN5+X</Txt>
      <Txt transform="translate(518,791) rotate(-90)" textAnchor="middle" fontSize={9.5}>Bound (%)</Txt>
    </g>
  );
}

export default function App() {
  return (
    <svg width={698} height={840} viewBox="0 0 698 840" style={{ position: 'absolute', left: 0, top: 0, background: '#fff' }} fontFamily={FONT}>
      <rect width={698} height={840} fill="#fff" />
      <PanelA />
      <PanelB />
      <PanelC />
      <PanelD />
      <PanelE />
      <PanelF />
      <PanelG />
      <PanelH />
      <PanelI />
      <PanelJ />
      <PanelK />
      <PanelL />
      <PanelM />
      <PanelN />
      <PanelO />
      <PanelP />
    </svg>
  );
}
